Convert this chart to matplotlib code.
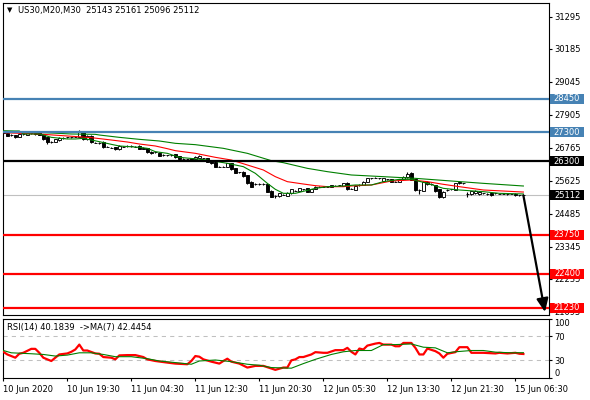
import matplotlib
matplotlib.use('Agg')
import numpy as np
import matplotlib.pyplot as plt
import matplotlib.transforms as mtransforms
from matplotlib.patches import Rectangle

# --- chart data (US30, M30) ---
symbol_title = 'US30,M20,M30  25143 25161 25096 25112'
rsi_title = 'RSI(14) 40.1839  ->MA(7) 42.4454'

opens = [27342, 27284, 27200, 27203, 27146, 27226, 27203, 27261, 27284, 27295,
         27238, 27122, 26973, 26973, 27030, 27111, 27122, 27120, 27145, 27145,
         27295, 27053, 27169, 26940, 26915, 26973, 26800, 26765, 26777, 26719,
         26800, 26823, 26825, 26800, 26823, 26765, 26742, 26627, 26604, 26592,
         26500, 26500, 26500, 26534, 26477, 26373, 26361, 26396, 26373, 26408,
         26396, 26396, 26338, 26281, 26108, 26105, 26108, 26223, 26050, 25912,
         25935, 25820, 25589, 25508, 25508, 25505, 25497, 25278, 25093, 25093,
         25140, 25105, 25186, 25278, 25266, 25324, 25358, 25243, 25335, 25416,
         25420, 25416, 25416, 25451, 25463, 25451, 25554, 25347, 25301, 25474,
         25474, 25589, 25704, 25727, 25704, 25624, 25670, 25670, 25589, 25589,
         25670, 25739, 25877, 25670, 25301, 25278, 25508, 25508, 25474, 25324,
         25047, 25301, 25324, 25301, 25589, 25531, 25163, 25163, 25186, 25163,
         25186, 25163, 25209, 25186, 25163, 25163, 25163, 25163, 25163, 25117,
         25143]
closes = [27261, 27180, 27195, 27122, 27238, 27230, 27261, 27265, 27238, 27215,
          27076, 26950, 26970, 27053, 27111, 27105, 27120, 27125, 27150, 27318,
          27053, 27169, 26950, 26938, 26915, 26777, 26800, 26765, 26719, 26823,
          26805, 26825, 26823, 26800, 26730, 26719, 26604, 26569, 26604, 26477,
          26500, 26500, 26495, 26431, 26361, 26370, 26360, 26315, 26454, 26477,
          26396, 26281, 26223, 26108, 26108, 26105, 26223, 26016, 25900, 25912,
          25785, 25531, 25416, 25508, 25508, 25505, 25243, 25070, 25093, 25186,
          25140, 25209, 25324, 25278, 25358, 25324, 25243, 25324, 25416, 25416,
          25420, 25416, 25474, 25451, 25463, 25531, 25335, 25347, 25439, 25474,
          25589, 25704, 25704, 25727, 25704, 25704, 25670, 25589, 25589, 25670,
          25762, 25854, 25647, 25301, 25301, 25589, 25589, 25508, 25266, 25047,
          25243, 25301, 25324, 25531, 25531, 25531, 25163, 25255, 25278, 25243,
          25186, 25163, 25117, 25186, 25163, 25163, 25163, 25163, 25128, 25117,
          25112]
highs = [27370, 27300, 27240, 27220, 27260, 27250, 27280, 27290, 27300, 27310,
         27250, 27140, 27010, 27070, 27130, 27140, 27150, 27150, 27175, 27376,
         27340, 27190, 27190, 26970, 26945, 26990, 26815, 26790, 26795, 26840,
         26830, 26850, 26850, 26825, 26840, 26780, 26760, 26640, 26630, 26610,
         26530, 26525, 26525, 26550, 26490, 26400, 26390, 26410, 26470, 26495,
         26420, 26410, 26350, 26300, 26135, 26130, 26240, 26240, 26065, 25940,
         25950, 25835, 25605, 25535, 25535, 25530, 25515, 25295, 25130, 25205,
         25165, 25225, 25340, 25305, 25375, 25350, 25375, 25340, 25430, 25440,
         25445, 25440, 25490, 25465, 25475, 25560, 25580, 25375, 25460, 25500,
         25605, 25720, 25730, 25750, 25730, 25720, 25685, 25690, 25615, 25690,
         25780, 25935, 25935, 25690, 25330, 25610, 25610, 25535, 25490, 25340,
         25260, 25330, 25350, 25555, 25605, 25545, 25245, 25275, 25295, 25260,
         25210, 25190, 25225, 25210, 25175, 25175, 25190, 25175, 25180, 25130,
         25161]
lows = [27240, 27160, 27160, 27100, 27130, 27200, 27190, 27240, 27220, 27200,
        27030, 26892, 26940, 26950, 27010, 27080, 27095, 27100, 27120, 27130,
        27030, 27030, 26930, 26910, 26890, 26760, 26785, 26740, 26700, 26700,
        26780, 26800, 26800, 26780, 26715, 26705, 26590, 26550, 26580, 26460,
        26475, 26475, 26470, 26400, 26330, 26345, 26335, 26295, 26360, 26395,
        26370, 26265, 26200, 26090, 26080, 26080, 26090, 25995, 25880, 25885,
        25765, 25510, 25395, 25480, 25480, 25475, 25220, 25045, 25012, 25075,
        25115, 25090, 25170, 25255, 25250, 25300, 25225, 25225, 25320, 25395,
        25400, 25395, 25400, 25440, 25450, 25435, 25310, 25320, 25285, 25450,
        25460, 25575, 25680, 25700, 25680, 25610, 25655, 25570, 25565, 25575,
        25655, 25720, 25630, 25280, 25163, 25260, 25490, 25485, 25245, 25030,
        25030, 25275, 25300, 25285, 25515, 25520, 25070, 25145, 25170, 25145,
        25160, 25140, 25100, 25160, 25150, 25150, 25140, 25150, 25110, 25105,
        25096]

# moving averages on price (bar index, price)
ma_fast_idx = [0, 4, 5, 9, 10, 12, 16, 18, 20, 22, 24, 27, 29, 34, 36, 38, 41, 44,
               51, 56, 60, 63, 66, 68, 70, 73, 78, 81, 85, 88, 92, 95, 99, 102,
               106, 110, 114, 120, 124, 130]
ma_fast_val = [27342, 27342, 27238, 27238, 27203, 27122, 27065, 27065, 27088, 27030,
               26973, 26880, 26823, 26777, 26742, 26627, 26569, 26431, 26338, 26223,
               26108, 25877, 25531, 25324, 25186, 25186, 25358, 25416, 25439, 25474,
               25474, 25589, 25670, 25670, 25531, 25358, 25301, 25243, 25186, 25163]
ma_mid_idx = [0, 10, 16, 22, 27, 31, 34, 38, 41, 43, 48, 53, 57, 61, 65, 68, 71,
              75, 78, 81, 85, 87, 92, 97, 102, 106, 110, 114, 120, 130]
ma_mid_val = [27285, 27226, 27169, 27111, 27030, 26961, 26892, 26823, 26730, 26661,
              26569, 26431, 26338, 26166, 25993, 25762, 25589, 25508, 25451, 25416,
              25416, 25440, 25474, 25612, 25647, 25589, 25497, 25416, 25301, 25230]
ma_slow_idx = [0, 5, 12, 17, 23, 24, 29, 34, 39, 43, 48, 55, 61, 67, 70, 76, 81,
               87, 95, 103, 112, 120, 130]
ma_slow_val = [27342, 27307, 27272, 27238, 27226, 27203, 27122, 27053, 26996, 26915,
               26869, 26742, 26569, 26315, 26246, 26050, 25935, 25820, 25762, 25704,
               25612, 25531, 25439]

# RSI(14) and its MA(7)
rsi_idx = [0, 1, 3, 4, 5, 7, 8, 9, 10, 12, 13, 14, 16, 17, 18, 19, 20, 21, 23, 24,
           25, 27, 28, 29, 31, 33, 35, 36, 38, 41, 43, 46, 47, 48, 49, 50, 52, 54,
           55, 56, 57, 59, 61, 63, 65, 67, 68, 70, 71, 72, 73, 74, 75, 77, 78, 80,
           81, 83, 85, 86, 87, 88, 89, 90, 91, 93, 94, 95, 97, 98, 99, 100, 102,
           103, 104, 105, 106, 108, 109, 110, 111, 113, 114, 116, 117, 120, 123,
           124, 126, 128, 129, 130]
rsi_val = [43.9, 39.4, 33.9, 40.6, 42.2, 48.9, 48.9, 42.2, 33.9, 28.3, 33.9, 39.4,
           41.1, 43.9, 47.8, 56.1, 46.1, 46.1, 41.1, 40.6, 35.0, 33.9, 31.1, 37.8,
           38.3, 38.3, 35.0, 31.1, 28.3, 25.6, 23.9, 22.8, 28.3, 36.7, 35.6, 31.1,
           27.2, 23.9, 28.3, 32.2, 27.2, 23.9, 17.2, 20.0, 20.0, 15.6, 13.3, 17.2,
           17.2, 29.4, 31.1, 35.0, 35.0, 39.4, 43.3, 42.2, 42.2, 46.7, 46.7, 50.6,
           43.9, 39.4, 49.4, 47.8, 54.4, 57.8, 58.9, 56.1, 56.1, 53.3, 53.3, 58.9,
           58.9, 50.6, 39.4, 39.4, 49.4, 45.0, 41.1, 33.9, 40.6, 43.3, 51.7, 51.7,
           42.2, 42.2, 41.1, 42.2, 41.1, 42.2, 40.6, 40.2]
rsi_ma_idx = [0, 2, 7, 10, 13, 16, 19, 22, 25, 28, 32, 36, 39, 43, 47, 49, 53, 57,
              61, 64, 67, 72, 75, 78, 82, 85, 88, 92, 95, 98, 102, 105, 108, 111,
              113, 117, 120, 123, 127, 130]
rsi_ma_val = [46.1, 42.2, 40.6, 39.4, 36.7, 38.3, 42.2, 42.2, 39.4, 35.6, 35.6, 32.2,
              28.3, 25.6, 22.8, 28.3, 30.0, 27.2, 22.8, 21.1, 17.2, 16.1, 23.9, 31.1,
              39.4, 43.9, 46.1, 46.1, 56.1, 56.1, 57.2, 51.7, 50.6, 42.2, 43.9, 46.1,
              46.1, 43.3, 42.2, 42.4]

# horizontal levels drawn on the chart
level_prices = [28450, 27300, 26300, 23750, 22400, 21230]
level_colors = ['#4682b4', '#4682b4', 'black', 'red', 'red', 'red']
current_price = 25112

# forecast arrow (bar, price)
arrow_bars = [130, 135.4]
arrow_prices = [25112, 21080]

price_ticks = [31295, 30185, 29045, 27905, 26765, 25625, 24485, 23345, 22235, 21095]
time_labels = ['10 Jun 2020', '10 Jun 19:30', '11 Jun 04:30', '11 Jun 12:30',
               '11 Jun 20:30', '12 Jun 05:30', '12 Jun 13:30', '12 Jun 21:30',
               '15 Jun 06:30']
bars_per_label = 16

plt.rcParams['font.family'] = ['DejaVu Sans']
fs = 6

W, H = 590, 400
fig = plt.figure(figsize=(W / 100, H / 100), dpi=100)
ax = fig.add_axes([2.7 / W, 84.7 / H, 546.3 / W, 312.6 / H])
rax = fig.add_axes([2.7 / W, 22.3 / H, 546.3 / W, 59.0 / H])

xlim = (-0.15, 136.4)
ylim = (20967, 31779)

# candles
x = np.arange(len(closes))
o = np.array(opens)
c = np.array(closes)
ax.vlines(x, lows, highs, color='black', lw=0.8, zorder=2)
body_colors = ['white' if cc > oo else 'black' for oo, cc in zip(o, c)]
ax.bar(x, np.abs(c - o), bottom=np.minimum(o, c), width=0.65, color=body_colors,
       edgecolor='black', linewidth=0.65, zorder=3)

# moving averages
ax.plot(ma_slow_idx, ma_slow_val, color='green', lw=0.8, zorder=4)
ax.plot(ma_mid_idx, ma_mid_val, color='red', lw=0.8, zorder=4)
ax.plot(ma_fast_idx, ma_fast_val, color='green', lw=0.8, zorder=4)

# levels
ax.axhline(current_price, color='#c0c0c0', lw=0.8, zorder=1)
for p, col in zip(level_prices, level_colors):
    ax.axhline(p, color=col, lw=1.6, zorder=5)

ax.annotate('', xy=(arrow_bars[1], arrow_prices[1]), xytext=(arrow_bars[0], arrow_prices[0]),
            arrowprops=dict(arrowstyle='-|>,head_length=0.8,head_width=0.35', color='black',
                            lw=1.6, shrinkA=0, shrinkB=0, mutation_scale=10),
            annotation_clip=False, zorder=6)

ax.set_xlim(*xlim)
ax.set_ylim(*ylim)
ax.tick_params(axis='x', bottom=False, labelbottom=False)
ax.yaxis.tick_right()
ax.set_yticks(price_ticks)
ax.set_yticklabels([str(t) for t in price_ticks])
ax.tick_params(axis='y', direction='out', length=2.5, width=0.8, pad=1.5, labelsize=fs)

# price label boxes on the right scale (they sit over the scale like in MT4)
trans = mtransforms.blended_transform_factory(ax.transAxes, ax.transData)
box_h = 10 / 312.6 * (ylim[1] - ylim[0])
boxes = list(zip(level_prices, level_colors)) + [(current_price, 'black')]
for p, col in boxes:
    ax.add_patch(Rectangle((1.0018, p - box_h / 2), 0.0622, box_h, transform=trans,
                           facecolor=col, edgecolor='none', clip_on=False, zorder=7))
    ax.text(1.033, p, str(p), transform=trans, color='white', fontsize=fs,
            ha='center', va='center', zorder=8, clip_on=False)

# RSI panel
rax.axhline(70, color='#c0c0c0', lw=0.75, ls=(0, (4, 4)))
rax.axhline(30, color='#c0c0c0', lw=0.75, ls=(0, (4, 4)))
rax.plot(rsi_idx, rsi_val, color='red', lw=1.6, zorder=3)
rax.plot(rsi_ma_idx, rsi_ma_val, color='green', lw=0.8, zorder=4)
rax.set_xlim(*xlim)
rax.set_ylim(0, 100)
rax.yaxis.tick_right()
rax.set_yticks([100, 70, 30, 0])
ylabels = rax.set_yticklabels(['100', '70', '30', '0'])
ylabels[0].set_va('top')
ylabels[3].set_va('bottom')
rax.tick_params(axis='y', direction='out', length=2.5, width=0.8, pad=1.5, labelsize=fs)
rax.set_xticks([k * bars_per_label for k in range(len(time_labels))])
rax.set_xticklabels(time_labels, ha='left')
rax.tick_params(axis='x', direction='out', length=2.5, width=0.8, pad=2.5, labelsize=fs)

for a in (ax, rax):
    for s in a.spines.values():
        s.set_linewidth(0.8)
        s.set_color('black')

fig.text(7 / W, 1 - 10 / H, '\u25bc', fontsize=5, va='center')
fig.text(18 / W, 1 - 10 / H, symbol_title, fontsize=fs, va='center')
fig.text(7.3 / W, 1 - 327.7 / H, rsi_title, fontsize=fs, va='center')

fig.savefig('out.png', dpi=100)
